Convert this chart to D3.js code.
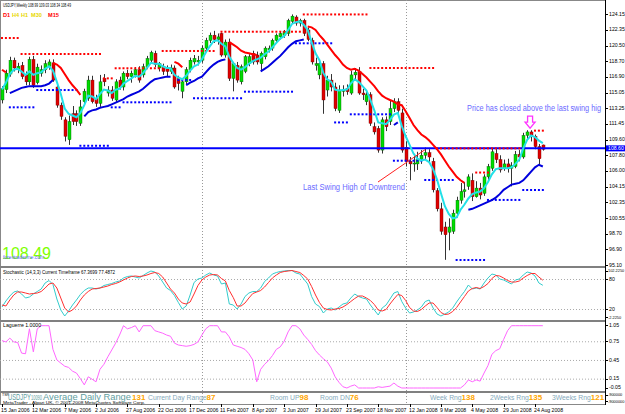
<!DOCTYPE html>
<html>
<head>
<meta charset="utf-8">
<script src="https://cdn.jsdelivr.net/npm/d3@7"></script>
<style>
  body { margin: 0; background: #fff; }
  svg { display: block; font-family: "Liberation Sans", Arial, sans-serif; }
</style>
</head>
<body>
<svg id="chart" width="625" height="414"></svg>
<script>
// Weekly USDJPY candles, [open, high, low, close], index 0 = 15 Jan 2006
const candles = [
  [114.2,115.8,113.8,115.5],[115.4,117.7,115.0,117.3],[117.2,119.2,116.9,118.8],[118.8,119.1,117.5,117.9],
  [117.7,118.5,117.3,118.1],[118.2,118.6,116.6,116.9],[117.1,117.5,115.9,116.3],[116.3,119.2,115.9,118.9],
  [118.9,119.3,115.6,115.9],[116.2,118.4,116.0,118.0],[117.3,118.2,116.9,117.7],[117.7,118.8,117.3,118.4],
  [118.1,118.9,117.7,118.6],[118.5,118.9,116.3,116.5],[115.7,116.0,113.3,113.6],[113.6,113.9,111.9,112.3],
  [111.9,112.2,109.4,110.0],[109.6,112.4,109.0,111.7],[112.6,113.5,111.3,111.7],[112.6,113.0,111.2,111.7],
  [111.5,114.2,111.2,113.4],[114.0,115.5,113.6,115.2],[114.4,117.0,114.1,116.5],[116.5,117.0,113.8,114.0],
  [114.4,114.8,113.4,113.8],[113.8,117.1,113.4,116.3],[116.7,117.2,115.8,116.3],[115.0,115.8,114.6,115.35],
  [115.35,115.8,114.1,114.4],[114.2,116.6,113.9,116.3],[116.5,116.9,115.4,115.7],[115.7,117.5,115.3,117.3],
  [117.3,117.7,116.6,116.9],[116.9,117.6,116.2,117.3],[117.1,118.0,116.8,117.7],[117.7,118.1,116.2,116.5],
  [117.1,118.4,116.8,118.05],[118.05,119.3,117.8,119.0],[118.8,119.9,118.5,119.7],[119.6,119.9,118.0,118.3],
  [117.9,118.6,117.5,118.4],[118.05,118.4,117.1,117.5],[117.95,118.2,116.9,117.5],[117.5,118.3,117.2,117.9],
  [117.9,118.2,115.5,115.7],[116.7,117.0,115.3,116.1],[115.2,116.6,114.4,116.3],[116.3,118.0,116.0,117.7],
  [117.7,119.1,117.4,118.8],[118.6,119.4,118.3,119.0],[118.6,119.3,118.2,118.8],[118.8,120.5,118.5,120.2],
  [120.2,121.4,119.9,121.1],[121.1,122.0,120.8,121.7],[121.7,122.2,120.8,121.2],[121.2,121.9,120.6,121.5],
  [121.9,122.0,119.2,119.4],[119.4,121.2,119.1,120.9],[120.9,121.3,116.4,116.7],[116.7,118.6,115.2,118.4],
  [118.2,118.6,116.2,116.5],[116.3,118.3,116.0,118.05],[117.5,119.4,117.3,119.2],[118.4,119.5,118.1,119.2],
  [119.6,119.9,118.3,118.6],[119.4,119.8,118.3,118.6],[118.4,119.8,117.5,119.6],[119.2,120.4,118.9,120.2],
  [120.0,120.5,119.7,120.2],[120.2,121.3,119.9,121.1],[121.1,121.9,120.8,121.7],[121.5,122.1,121.2,121.9],
  [121.7,122.3,121.4,122.1],[121.9,123.6,121.6,123.4],[123.3,124.1,123.0,123.9],[123.8,124.0,122.8,123.1],
  [123.1,123.6,122.7,123.4],[123.4,123.6,121.6,121.9],[122.3,122.6,121.0,121.2],[121.1,121.4,118.3,118.6],
  [118.2,119.1,117.6,118.4],[117.1,118.8,116.6,118.4],[118.4,118.7,112.6,114.2],[115.35,117.0,114.6,116.5],
  [116.5,117.2,115.2,115.7],[115.7,116.2,112.9,113.2],[113.0,115.9,112.7,115.35],[115.2,115.9,114.6,115.35],
  [115.5,116.0,114.8,115.16],[115.0,117.6,114.8,117.1],[117.1,117.9,116.6,117.4],[117.5,118.0,114.8,115.0],
  [115.0,115.5,114.2,114.8],[114.0,115.3,113.6,114.8],[114.8,115.1,111.2,111.5],[111.1,111.6,110.2,110.5],
  [110.9,111.2,108.1,108.4],[108.4,112.2,108.0,111.9],[111.9,112.3,110.6,111.1],[111.7,114.2,111.3,113.2],
  [113.2,114.4,112.8,114.0],[114.0,114.4,112.7,113.0],[112.7,113.2,108.1,108.4],[108.7,109.4,106.5,107.1],
  [107.1,107.6,104.9,106.8],[106.8,107.9,105.9,106.9],[106.8,108.2,106.1,107.3],[107.3,108.4,106.8,107.8],
  [107.8,108.7,107.3,108.1],[108.1,108.5,107.0,107.6],[107.1,107.5,103.5,103.8],[103.7,104.0,101.3,101.6],
  [101.6,102.3,98.6,99.0],[99.5,100.1,95.7,98.6],[98.9,100.5,96.8,99.5],[99.0,101.5,98.7,101.1],
  [101.1,103.0,100.6,102.6],[102.6,104.6,102.2,103.6],[103.6,104.7,102.9,103.8],[104.2,105.6,103.8,105.3],
  [104.9,105.7,102.5,103.0],[103.0,104.8,102.9,104.0],[104.0,104.6,102.7,103.2],[103.4,105.6,103.1,105.3],
  [105.3,106.8,104.8,106.5],[106.3,108.6,106.0,108.2],[108.0,108.5,106.9,107.3],[107.3,107.8,105.8,106.1],
  [106.3,107.3,106.0,106.8],[106.8,107.4,105.8,106.3],[106.3,107.0,104.2,106.6],[106.5,108.3,106.3,107.9],
  [107.9,108.4,107.1,107.6],[107.6,110.4,107.4,110.1],[110.1,110.7,109.6,110.5],[110.5,110.7,109.4,110.0],
  [110.0,110.2,108.5,108.8],[108.8,109.1,106.7,107.4],[108.99,109.03,108.34,108.49]
];

// cyan fast line (one value per bar)
const cyanLine = [
  115.4,116.2,117.2,117.7,117.8,117.5,117.1,117.5,117.1,117.3,117.4,117.8,118.1,117.6,116.3,114.9,113.2,112.6,
  112.4,112.2,112.7,113.6,114.7,114.6,114.3,114.9,115.4,115.3,115.0,115.4,115.5,116.1,116.4,116.7,117.0,116.9,
  117.3,117.9,118.5,118.4,118.4,118.1,117.9,117.9,117.1,116.8,116.6,117.0,117.6,118.1,118.3,118.9,119.7,120.4,
  121.0,121.1,120.7,120.4,119.2,118.5,117.9,117.7,118.0,118.4,118.7,118.9,119.1,119.5,119.8,120.3,120.8,121.3,
  121.6,122.3,123.0,123.2,123.3,122.9,122.3,120.9,119.6,118.8,117.3,116.6,116.3,115.4,115.3,115.35,115.4,116.1,
  116.6,116.3,115.8,115.3,114.2,113.0,111.6,111.5,111.4,111.9,112.5,112.7,111.2,110.0,109.0,108.0,107.4,107.2,
  107.3,107.0,106.2,105.0,103.4,101.9,101.0,100.5,100.6,101.5,102.1,102.8,103.3,103.5,103.6,104.0,104.7,105.6,
  106.2,106.3,106.3,106.3,106.4,106.8,107.3,108.6,109.6,110.1,109.9,109.5,109.2
];

// red (downtrend) and blue (uptrend) lines: [first bar, values]
const redSegments = [
  [0, [117.7, 117.4]],
  [13, [118.5, 118.3, 117.9, 117.2, 116.5, 115.9, 115.4, 114.8]],
  [44, [118.6, 118.4, 118.0]],
  [58, [120.9, 120.6, 120.3, 119.9, 119.7, 119.6, 119.5, 119.4]],
  [78, [122.7, 122.6, 122.3, 121.7, 121.2, 120.6, 120.0, 119.4, 118.9, 118.3, 117.9, 117.7, 117.8, 117.6,
        117.2, 116.8, 116.3, 115.8, 115.2, 114.7, 114.4, 114.2, 114.0, 113.7, 113.6, 112.9, 112.1, 111.3,
        110.7, 110.2, 109.9, 109.5, 109.0, 108.5, 107.9, 107.2, 106.5, 105.9, 105.3, 104.9, 104.6]]
];
const blueSegments = [
  [2, [115.0, 115.2, 115.4, 115.6, 115.7, 115.8, 115.8, 115.8, 115.8, 115.9, 116.1, 116.5]],
  [21, [112.3, 112.8, 113.0, 113.1, 113.3, 113.4, 113.5, 113.7, 113.9, 114.1, 114.3, 114.6, 114.8, 115.0,
        115.2, 115.5, 115.9, 116.3, 116.6, 116.7, 116.8, 116.9, 116.9]],
  [47, [115.9, 116.2, 116.4, 116.7, 116.9, 117.4, 117.9, 118.3, 118.6, 118.8, 118.9]],
  [66, [117.5, 117.8, 118.1, 118.5, 118.9, 119.3, 119.8, 120.3, 120.7, 121.0, 121.1, 121.2]],
  [100, [111.3, 111.6]],
  [119, [101.5, 101.6, 101.8, 102.0, 102.2, 102.4, 102.6, 102.9, 103.3, 103.8, 104.1, 104.4, 104.5, 104.6,
         104.9, 105.4, 105.9, 106.4, 106.7, 106.5]]
];

// swing levels: [first bar, last bar, price]
const swingHighs = [
  [0, 4, 121.37], [5, 25, 119.52], [26, 28, 116.7], [29, 40, 117.87], [41, 54, 119.87],
  [56, 76, 122.1], [77, 93, 124.1], [94, 110, 117.9], [111, 132, 108.6], [121, 124, 105.8], [136, 138, 110.65]
];
const swingLows = [
  [2, 8, 113.35], [9, 19, 115.35], [20, 27, 108.9], [28, 30, 113.35], [31, 43, 113.93], [45, 48, 116.51],
  [49, 61, 114.4], [62, 74, 115.16], [75, 84, 120.76], [85, 88, 111.6], [89, 99, 112.54], [100, 107, 107.17],
  [108, 115, 104.94], [116, 123, 95.68], [124, 132, 102.63], [133, 138, 103.78]
];

const stochMain = [
  24,36,46,54,56,50,42,44,50,55,60,72,77,69,40,18,6,16,28,38,49,57,62,62,60,62,67,69,71,74,76,82,85,86,84,82,
  87,92,96,94,86,74,62,57,47,33,20,26,48,73,80,82,
  88,92,88,86,70,72,30,28,20,30,45,52,55,55,62,75,82,90,93,95,96,97,97,92,90,80,70,45,30,25,12,20,22,18,24,30,
  32,42,50,45,42,40,28,18,8,22,28,40,52,55,35,22,12,14,18,24,35,38,22,10,6,10,14,22,34,45,55,68,60,62,60,72,
  82,90,88,80,78,74,70,78,80,88,94,92,86,72,67.4
];
const stochSignal = [
  28,26,38,48,54,54,52,50,51,52,55,62,70,72,62,42,22,14,18,26,38,48,55,60,61,62,64,66,69,71,74,78,82,85,86,85,
  86,88,91,93,91,84,72,60,52,40,32,30,34,50,67,78,
  84,88,89,88,81,76,57,43,26,26,32,42,51,54,57,64,73,82,88,93,95,96,97,95,93,87,80,65,48,33,22,19,18,20,21,24,
  29,35,41,46,46,42,37,29,18,16,19,30,40,49,47,37,23,16,15,19,26,32,32,23,13,9,10,15,23,34,45,56,61,63,61,65,
  71,81,87,86,82,77,74,74,76,82,87,91,91,84,77.5
];
const laguerre = [
  0.76,0.74,0.80,0.74,0.73,0.56,0.55,0.95,0.58,0.95,1,1,1,0.62,0.45,0.40,0.35,0.33,0.27,0.24,0.15,0.05,0.18,0.14,
  0.10,0.30,0.38,0.50,0.61,0.72,0.85,1,0.95,0.97,1,0.9,1,1,1,0.92,0.9,0.88,0.85,0.83,0.72,0.69,0.68,0.67,0.68,
  0.70,0.74,0.85,0.95,1,1,1,0.9,0.9,0.82,0.69,0.67,0.65,0.62,0.55,0.45,0.10,0.30,0.38,0.44,0.52,0.62,0.66,0.75,
  0.9,1,1,0.95,0.85,0.78,0.70,0.60,0.53,0.47,0.42,0.32,0.18,0.09,0.02,0,0.03,0.05,0,0,0,0,0,0.02,0.01,0.02,0.03,
  0.08,0.03,0,0,0,0,0,0,0,0,0,0,0,0,0,0,0,0,0.05,0.13,0.10,0.13,0.11,0.24,0.36,0.54,0.60,0.63,0.78,0.92,1,1,1,1,
  1,1,1,1,1
];

const priceTicks = ["124.15","122.35","120.50","118.70","116.90","115.05","113.25","111.45","109.60","107.80",
  "106.00","104.15","102.35","100.55","98.70","96.90","95.10"];
const dateLabels = ["15 Jan 2006","12 Mar 2006","7 May 2006","2 Jul 2006","27 Aug 2006","22 Oct 2006",
  "17 Dec 2006","11 Feb 2007","8 Apr 2007","3 Jun 2007","29 Jul 2007","23 Sep 2007","18 Nov 2007",
  "12 Jan 2008","9 Mar 2008","4 May 2008","29 Jun 2008","24 Aug 2008"];
const yearSeparators = [51, 103];
const lastSwingLevel = 108.60;

// info strip at the bottom: label, value, x
const infoItems = [
  ["Current Day Range", "87", 148], ["Room UP", "98", 270], ["Room DN", "76", 320],
  ["Week Rng", "138", 430], ["2Weeks Rng", "135", 490], ["3Weeks Rng", "121", 552]
];

// ---------- set up ----------
const svg = d3.select('#chart');
const axisX = 605;

const x = d3.scaleLinear().domain([0, 136]).range([2, 535]);
const yMain = d3.scaleLinear().domain([95.10, 124.15]).range([265, 14]);
const yStoch = d3.scaleLinear().domain([0, 100]).range([319, 269]);
const yLag = d3.scaleLinear().domain([0, 1]).range([388, 325.7]);

const defs = svg.append('defs');
function clip(id, y0, y1) {
  defs.append('clipPath').attr('id', id).append('rect')
    .attr('x', 0).attr('y', y0).attr('width', axisX).attr('height', y1 - y0);
  return svg.append('g').attr('clip-path', `url(#${id})`);
}
// text squeezed to a measured width
function fitText(parent, tx, ty, size, width, colour, str) {
  return parent.append('text').attr('x', tx).attr('y', ty).attr('font-size', size).attr('fill', colour)
    .attr('textLength', width).attr('lengthAdjust', 'spacingAndGlyphs').text(str);
}

// frame
svg.append('rect').attr('x', 0.5).attr('y', 0.5).attr('width', axisX).attr('height', 404)
  .attr('fill', 'none').attr('stroke', '#888');

// period separators
yearSeparators.forEach(i => {
  svg.append('line').attr('x1', Math.round(x(i)) + 0.5).attr('x2', Math.round(x(i)) + 0.5)
    .attr('y1', 0).attr('y2', 404).attr('stroke', '#999').attr('stroke-dasharray', '1,2');
});

// ---------- main panel ----------
const main = clip('cMain', 1, 266);

candles.forEach((d, i) => {
  const [o, h, l, c] = d;
  const cx = Math.round(x(i));
  const up = c >= o;
  main.append('line').attr('x1', cx + 0.5).attr('x2', cx + 0.5)
    .attr('y1', yMain(h)).attr('y2', yMain(l)).attr('stroke', '#333').attr('stroke-width', 1);
  const top = yMain(Math.max(o, c)), bot = yMain(Math.min(o, c));
  main.append('rect').attr('x', cx - 1).attr('y', top).attr('width', 3)
    .attr('height', Math.max(1, bot - top))
    .attr('fill', up ? '#00dd00' : '#e00000')
    .attr('stroke', up ? '#006400' : '#700000').attr('stroke-width', 0.4);
});

// last swing high reference line
main.append('line').attr('x1', 0).attr('x2', axisX)
  .attr('y1', yMain(lastSwingLevel)).attr('y2', yMain(lastSwingLevel))
  .attr('stroke', '#0000ff').attr('stroke-width', 2);

// swing dots
function dots(list, colour) {
  list.forEach(([a, b, p]) => {
    d3.range(a, b + 1).forEach(i => {
      main.append('rect').attr('x', x(i) - 1).attr('y', yMain(p) - 1)
        .attr('width', 2).attr('height', 2).attr('fill', colour);
    });
  });
}
dots(swingHighs, '#ff0000');
dots(swingLows, '#0000ff');

// trend lines
const priceLine = d3.line().x(d => x(d[0])).y(d => yMain(d[1]));
function segLines(list, colour) {
  list.forEach(([start, vals]) => {
    main.append('path').attr('d', priceLine(vals.map((v, k) => [start + k, v])))
      .attr('fill', 'none').attr('stroke', colour).attr('stroke-width', 2);
  });
}
segLines(redSegments, '#ff0000');
segLines(blueSegments, '#0000dd');
main.append('path').attr('d', priceLine(cyanLine.map((v, i) => [i, v])))
  .attr('fill', 'none').attr('stroke', '#22e0e8').attr('stroke-width', 2);

// annotations
main.append('line').attr('x1', 378).attr('y1', 182).attr('x2', x(108)).attr('y2', yMain(108.7) + 2)
  .attr('stroke', '#ff2020').attr('stroke-width', 1);
fitText(main, 303, 190, 8.5, 102, '#6a6aff', 'Last Swing High of Downtrend');
fitText(svg, 467, 111, 8.5, 134, '#6a6aff', 'Price has closed above the last swing hig');
const ax = x(135) - 1, ay = yMain(110.7) - 14;
main.append('path')
  .attr('d', `M${ax - 2.5},${ay} L${ax + 2.5},${ay} L${ax + 2.5},${ay + 6} L${ax + 5},${ay + 6} L${ax},${ay + 12} L${ax - 5},${ay + 6} L${ax - 2.5},${ay + 6} Z`)
  .attr('fill', '#fff').attr('stroke', '#ff33ff').attr('stroke-width', 1.3);

// header texts
fitText(svg, 3, 7, 6, 68, '#000', 'USDJPY,Weekly  108.99 109.03 108.34 108.49');
const tfs = [['D1', '#ff0000', 3], ['H4', '#e8d800', 12], ['H1', '#e8d800', 21], ['M30', '#e8d800', 31], ['M15', '#ff0000', 48]];
tfs.forEach(([t, col, tx]) => {
  svg.append('text').attr('x', tx).attr('y', 17).attr('font-size', 5.6).attr('font-weight', 'bold')
    .attr('fill', col).text(t);
});
svg.append('text').attr('x', 2).attr('y', 259).attr('font-size', 16).attr('fill', '#80ff00').text('108.49');
fitText(svg, 3, 259, 6, 41, '#6666ff', 'forextraderme.com');

// ---------- stochastic panel ----------
const stoch = clip('cSto', 268, 320);
[80, 20].forEach(v => {
  stoch.append('line').attr('x1', 0).attr('x2', axisX).attr('y1', yStoch(v) + 0.5).attr('y2', yStoch(v) + 0.5)
    .attr('stroke', '#aaa').attr('stroke-dasharray', '1,2');
});
const stLine = d3.line().x((d, i) => x(i)).y(d => yStoch(d));
stoch.append('path').attr('d', stLine(stochMain)).attr('fill', 'none').attr('stroke', '#33cccc').attr('stroke-width', 1);
stoch.append('path').attr('d', stLine(stochSignal)).attr('fill', 'none').attr('stroke', '#ff3030').attr('stroke-width', 1);
fitText(svg, 3, 274, 5.2, 112, '#000', 'Stochastic (14,3,3) Current Timeframe 67.3699 77.4872');

// ---------- laguerre panel ----------
const lag = clip('cLag', 322, 391);
[0.75, 0.45, 0.15].forEach(v => {
  lag.append('line').attr('x1', 0).attr('x2', axisX).attr('y1', yLag(v) + 0.5).attr('y2', yLag(v) + 0.5)
    .attr('stroke', '#aaa').attr('stroke-dasharray', '1,2');
});
lag.append('path').attr('d', d3.line().x((d, i) => x(i)).y(d => yLag(d))(laguerre))
  .attr('fill', 'none').attr('stroke', '#ff66ff').attr('stroke-width', 1);
svg.append('text').attr('x', 3).attr('y', 327).attr('font-size', 5.2).attr('fill', '#000').text('Laguerre 1.0000');

// panel separators
[267, 321, 392].forEach(yy => {
  svg.append('rect').attr('x', 0).attr('y', yy - 1).attr('width', axisX).attr('height', 2).attr('fill', '#808080');
});

// bottom info strip
svg.append('text').attr('x', 2).attr('y', 396).attr('font-size', 3.6).attr('fill', '#000').text('TSR');
fitText(svg, 8, 399.5, 9, 23, '#5f9ea0', 'USDJPY');
fitText(svg, 31, 399.5, 7.5, 11, '#5f9ea0', '10090');
fitText(svg, 43, 399.5, 8.5, 88, '#5f9ea0', 'Average Daily Range');
svg.append('text').attr('x', 132).attr('y', 399.5).attr('font-size', 8).attr('font-weight', 'bold')
  .attr('fill', '#ffa500').text('131');
infoItems.forEach(([label, val, lx]) => {
  const t = svg.append('text').attr('x', lx).attr('y', 399.5).attr('font-size', 6.8);
  t.append('tspan').attr('fill', '#86aabb').text(label);
  t.append('tspan').attr('fill', '#ffa500').attr('font-weight', 'bold').attr('font-size', 8).text(val);
});
fitText(svg, 3, 403.5, 4.3, 142, '#000', 'MetaTrader - Alpari UK, \u00a9 2001-2008 MetaQuotes Software Corp.');

// ---------- right axis ----------
svg.append('line').attr('x1', axisX + 0.5).attr('x2', axisX + 0.5).attr('y1', 0).attr('y2', 405).attr('stroke', '#000');
const rightLabel = (yy, t, small) => {
  svg.append('line').attr('x1', axisX).attr('x2', axisX + 3).attr('y1', Math.round(yy) + 0.5).attr('y2', Math.round(yy) + 0.5).attr('stroke', '#000');
  svg.append('text').attr('x', small ? axisX + 3 : axisX + 4).attr('y', yy + 1.6)
    .attr('font-size', small ? 3.9 : 5.2).attr('fill', '#000').text(t);
};
priceTicks.forEach(t => rightLabel(yMain(+t), t));
const ly = yMain(lastSwingLevel);
svg.append('rect').attr('x', axisX + 1).attr('y', ly - 3).attr('width', 19).attr('height', 6).attr('fill', '#0000ff');
svg.append('text').attr('x', axisX + 3).attr('y', ly + 1.8).attr('font-size', 5.2).attr('fill', '#fff').text('108.60');
rightLabel(270.5, '102.2250', true);
rightLabel(yStoch(80), '80');
rightLabel(yStoch(20), '20');
rightLabel(317, '-2.2250', true);
rightLabel(325, '1.05');
rightLabel(yLag(0.75), '0.75');
rightLabel(yLag(0.45), '0.45');
rightLabel(yLag(0.15), '0.15');
rightLabel(387.5, '-0.05');
rightLabel(394.5, '-900000', true);
rightLabel(401, '-9000000', true);

// ---------- time axis ----------
dateLabels.forEach((t, k) => {
  const xx = Math.round(x(k * 8));
  svg.append('line').attr('x1', xx + 0.5).attr('x2', xx + 0.5).attr('y1', 404).attr('y2', 407).attr('stroke', '#000');
  svg.append('text').attr('x', xx - 1).attr('y', 412).attr('font-size', 5.2).attr('fill', '#000').text(t);
});
</script>
</body>
</html>
